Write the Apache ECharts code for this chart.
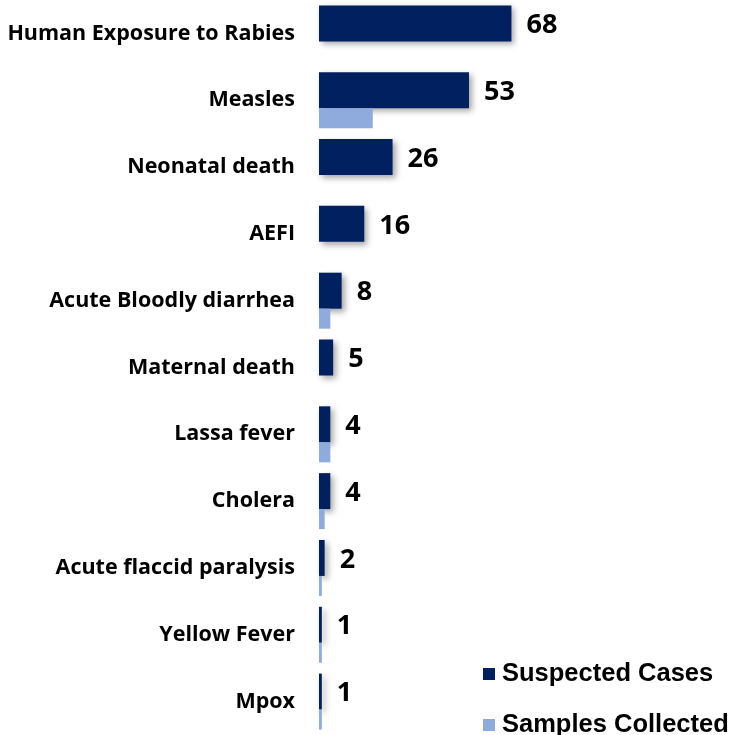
<!DOCTYPE html>
<html><head><meta charset="utf-8">
<script src="https://cdn.jsdelivr.net/npm/echarts@6/dist/echarts.min.js"></script>
<style>html,body{margin:0;padding:0;background:#fff}#c{width:731px;height:735px}</style>
</head><body><div id="c"></div>
<script>
const categories = ["Human Exposure to Rabies","Measles","Neonatal death","AEFI","Acute Bloodly diarrhea","Maternal death","Lassa fever","Cholera","Acute flaccid paralysis","Yellow Fever","Mpox"];
const suspectedCases = [68,53,26,16,8,5,4,4,2,1,1];
const samplesCollected = [0,19,0,0,4,0,4,2,1,1,1];

const chart = echarts.init(document.getElementById('c'));
chart.setOption({
  animation:false,
  grid:{left:319, top:0, width:283, height:741},
  xAxis:{type:'value', min:0, max:100, show:false},
  yAxis:{type:'category', data:categories, inverse:true,
    axisLine:{show:false}, axisTick:{show:false},
    axisLabel:{margin:24, color:'#000', fontFamily:'Open Sans', fontWeight:'bold', fontSize:21.5, padding:[3,0,0,0]}},
  legend:{orient:'vertical', left:483, top:661, height:120, padding:0, itemWidth:12, itemHeight:12, itemGap:25,
    icon:'rect',
    textStyle:{fontFamily:'Liberation Sans', fontWeight:'bold', fontSize:25.5, color:'#000', padding:[0,0,0,2]},
    data:['Suspected Cases','Samples Collected']},
  series:[
    {name:'Suspected Cases', type:'bar', data:suspectedCases, barWidth:36, barGap:'0%',
     itemStyle:{color:'#002060', shadowBlur:6, shadowOffsetX:3, shadowOffsetY:3, shadowColor:'rgba(0,0,0,0.35)'},
     label:{show:true, position:'right', distance:15, offset:[0,2], color:'#000', fontFamily:'Open Sans', fontWeight:'bold', fontSize:27}},
    {name:'Samples Collected', type:'bar', data:samplesCollected, barWidth:20,
     itemStyle:{color:'#8FAADC'}}
  ]
});
</script></body></html>
